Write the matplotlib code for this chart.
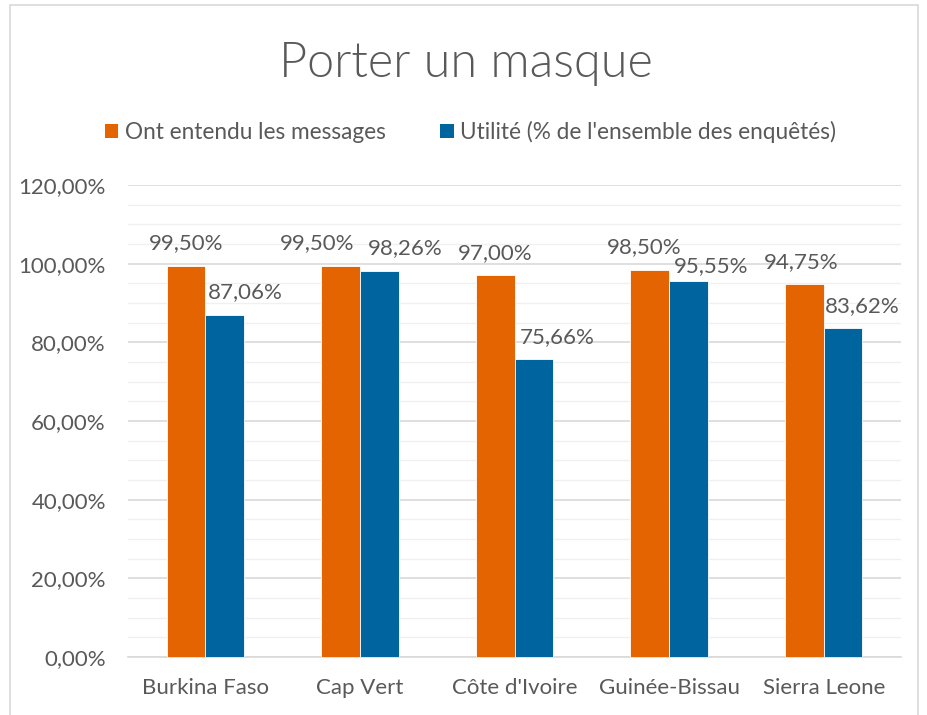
import matplotlib

matplotlib.use("Agg")
import matplotlib.pyplot as plt
from matplotlib.patches import Patch, Rectangle
from matplotlib.ticker import FuncFormatter, MultipleLocator

plt.rcParams["font.family"] = ["Lato", "DejaVu Sans"]

pays = ["Burkina Faso", "Cap Vert", "Côte d'Ivoire", "Guinée-Bissau", "Sierra Leone"]
entendu = [99.50, 99.50, 97.00, 98.50, 94.75]  # %
utilite = [87.06, 98.26, 75.66, 95.55, 83.62]  # %
series_names = ["Ont entendu les messages", "Utilité (% de l'ensemble des enquêtés)"]

ORANGE = "#E36400"
BLUE = "#00649E"
TEXT = "#595959"
GRID = "#D9D9D9"
MINOR = "#F0F0F0"
FS = 16

# label nudges in points (the labels were dragged apart in the original)
orange_dx = [0, -17, 0, -4, -2]
blue_dx = [15, 19, 17, 16, 14]
blue_dy = [9, 9, 9, 4, 9]


def pct(v, _pos=None):
    return f"{v:.2f}%".replace(".", ",")


fig = plt.figure(figsize=(9.28, 7.15), dpi=100)
fig.patches.append(Rectangle((10 / 928, -0.01), 908 / 928, 1.0 - 5 / 715 + 0.01,
                             transform=fig.transFigure, fill=False,
                             edgecolor=GRID, linewidth=1.2))

ax = fig.add_axes([128 / 928, 58 / 715, 773 / 928, 472 / 715])

x = list(range(len(pays)))
w = 0.25
bars1 = ax.bar([i - w / 2 for i in x], entendu, width=w, color=ORANGE,
               edgecolor="white", linewidth=0.6, zorder=3)
bars2 = ax.bar([i + w / 2 for i in x], utilite, width=w, color=BLUE,
               edgecolor="white", linewidth=0.6, zorder=3)

for b, v, dx in zip(bars1, entendu, orange_dx):
    ax.annotate(pct(v), (b.get_x() + b.get_width() / 2, v), xytext=(dx, 9),
                textcoords="offset points", ha="center", va="bottom",
                fontsize=FS, color=TEXT)
for b, v, dx, dy in zip(bars2, utilite, blue_dx, blue_dy):
    ax.annotate(pct(v), (b.get_x() + b.get_width() / 2, v), xytext=(dx, dy),
                textcoords="offset points", ha="center", va="bottom",
                fontsize=FS, color=TEXT)

ax.set_xlim(-0.5, len(pays) - 0.5)
ax.set_ylim(0, 120)
ax.yaxis.set_major_locator(MultipleLocator(20))
ax.yaxis.set_minor_locator(MultipleLocator(5))
ax.yaxis.set_major_formatter(FuncFormatter(pct))
ax.grid(axis="y", which="major", color=GRID, linewidth=1.2, zorder=0)
ax.grid(axis="y", which="minor", color=MINOR, linewidth=1.0, zorder=0)
ax.set_axisbelow(True)

ax.set_xticks(x)
ax.set_xticklabels(pays)
ax.tick_params(axis="both", which="both", length=0, labelsize=FS,
               labelcolor=TEXT)
ax.tick_params(axis="x", pad=15)
ax.tick_params(axis="y", pad=16)
for side in ["top", "right", "left"]:
    ax.spines[side].set_visible(False)
ax.spines["bottom"].set_color(GRID)
ax.spines["bottom"].set_linewidth(1.2)

fig.text(0.5015, 1 - 77 / 715, "Porter un masque", ha="center", va="baseline",
         fontsize=35, fontweight=300, color=TEXT)

handles = [Patch(facecolor=ORANGE), Patch(facecolor=BLUE)]
fig.legend(handles, series_names, loc="center", ncol=2,
           bbox_to_anchor=(0.507, 1 - 132 / 715), frameon=False,
           fontsize=16.3, labelcolor=TEXT, handlelength=0.6,
           handleheight=0.6, handletextpad=0.3, columnspacing=2.4)

fig.savefig("out.png", dpi=100)
